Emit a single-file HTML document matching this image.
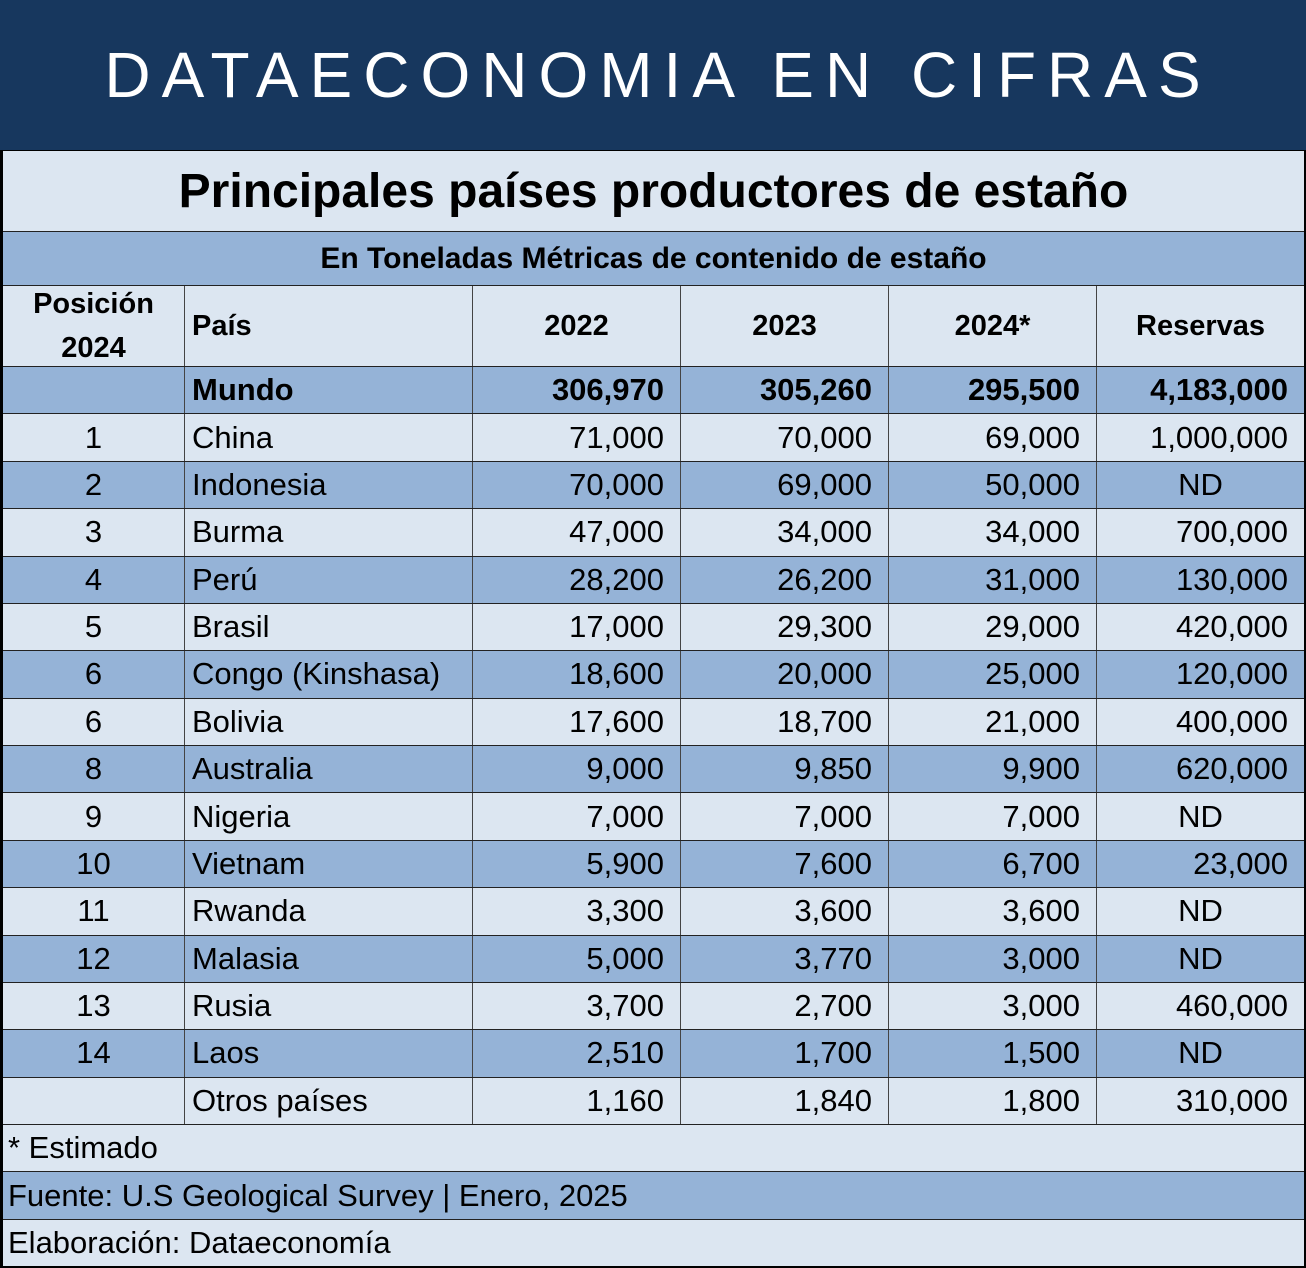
<!DOCTYPE html>
<html><head><meta charset="utf-8"><style>
*{margin:0;padding:0;box-sizing:border-box}
body{width:1306px;height:1268px;background:#000;position:relative;overflow:hidden;font-family:"Liberation Sans",sans-serif;color:#000}
.a{position:absolute}
.hd{left:0;top:0;width:1306px;height:150px;background:#17375e;color:#fff;font-size:64px;letter-spacing:11px;text-align:center;line-height:150px;font-weight:normal;padding-left:10px}
.row{position:absolute;left:3px;width:1301px;display:flex;border-bottom:1.5px solid #222}
.c{border-right:1.5px solid #444;font-size:31px;display:flex;align-items:center;padding:0 16px;white-space:nowrap}
.c:last-child{border-right:none}
.c0{width:182px;justify-content:center}.c1{width:288px;justify-content:flex-start;padding-left:7px}
.c2,.c3,.c4{width:208px;justify-content:flex-end}.c5{width:207px;justify-content:flex-end}
.L{background:#dce6f1}.B{background:#95b3d7}
.b{font-weight:bold}
</style></head><body>
<div class="a hd">DATAECONOMIA EN CIFRAS</div>
<div class="row L" style="top:151px;height:81px;justify-content:center;align-items:center;font-size:48px;font-weight:bold">Principales países productores de estaño</div>
<div class="row B" style="top:232px;height:54px;justify-content:center;align-items:center;font-size:30px;font-weight:bold">En Toneladas Métricas de contenido de estaño</div>
<div class="row L b" style="top:286px;height:81px">
<div class="c c0" style="text-align:center;line-height:44px;font-size:29px">Posición<br>2024</div><div class="c c1" style="font-size:29px">País</div>
<div class="c c2" style="justify-content:center;font-size:29px">2022</div><div class="c c3" style="justify-content:center;font-size:29px">2023</div><div class="c c4" style="justify-content:center;font-size:29px">2024*</div><div class="c c5" style="justify-content:center;font-size:29px">Reservas</div></div>
<div id="rows"></div>
<div class="row L" style="top:1125px;height:47px;align-items:center;font-size:31px;padding-left:5px">* Estimado</div>
<div class="row B" style="top:1172px;height:48px;align-items:center;font-size:31px;padding-left:5px">Fuente: U.S Geological Survey | Enero, 2025</div>
<div class="row L" style="top:1220px;height:46px;align-items:center;font-size:31px;padding-left:5px;border-bottom:none">Elaboración: Dataeconomía</div>
<script>
var d=[["","Mundo","306,970","305,260","295,500","4,183,000"],["1","China","71,000","70,000","69,000","1,000,000"],["2","Indonesia","70,000","69,000","50,000","ND"],["3","Burma","47,000","34,000","34,000","700,000"],["4","Perú","28,200","26,200","31,000","130,000"],["5","Brasil","17,000","29,300","29,000","420,000"],["6","Congo (Kinshasa)","18,600","20,000","25,000","120,000"],["6","Bolivia","17,600","18,700","21,000","400,000"],["8","Australia","9,000","9,850","9,900","620,000"],["9","Nigeria","7,000","7,000","7,000","ND"],["10","Vietnam","5,900","7,600","6,700","23,000"],["11","Rwanda","3,300","3,600","3,600","ND"],["12","Malasia","5,000","3,770","3,000","ND"],["13","Rusia","3,700","2,700","3,000","460,000"],["14","Laos","2,510","1,700","1,500","ND"],["","Otros países","1,160","1,840","1,800","310,000"]];
var h="";d.forEach(function(r,i){var t=367+i*47.375;h+='<div class="row '+(i%2==0?'B':'L')+(i==0?' b':'')+'" style="top:'+t+'px;height:47.4px">';r.forEach(function(v,j){var s=(j==5&&v=="ND")?' style="justify-content:center;padding-left:16px"':'';h+='<div class="c c'+j+'"'+s+'>'+v+'</div>'});h+='</div>'});
document.getElementById('rows').innerHTML=h;
</script>
</body></html>
